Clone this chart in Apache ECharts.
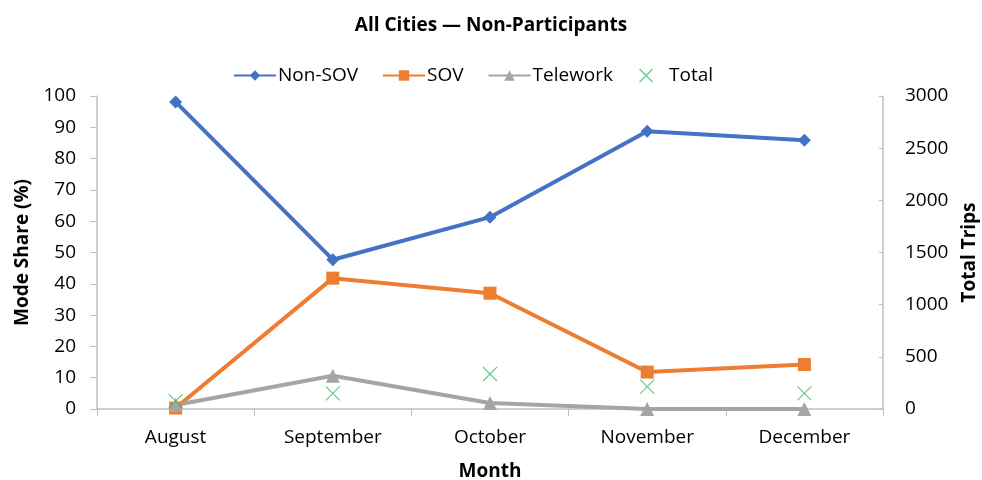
<!DOCTYPE html>
<html><head><meta charset="utf-8">
<script src="https://cdn.jsdelivr.net/npm/echarts@6/dist/echarts.min.js"></script>
<style>html,body{margin:0;padding:0;background:#fff}#c{width:982px;height:480px}</style>
</head><body><div id="c"></div>
<script>
const months = ['August','September','October','November','December'];
const nonSov = [98.1, 47.7, 61.3, 88.7, 85.9];
const sov = [0.3, 41.8, 37.0, 11.8, 14.2];
const telework = [1.3, 10.6, 1.9, 0.0, 0.0];
const total = [75, 150, 335, 215, 150];
const leftTicks = [0, 100, 10];
const rightTicks = [0, 3000, 500];

const font = '"Open Sans", sans-serif';
const axisGray = '#bfbfbf';
const chart = echarts.init(document.getElementById('c'));
chart.setOption({
  animation: false,
  textStyle: { fontFamily: font },
  title: { text: 'All Cities — Non-Participants', left: 'center', top: 11,
    textStyle: { fontSize: 19, fontWeight: 'bold', color: '#000', fontFamily: font } },
  legend: { top: 61, left: 228, itemWidth: 42, itemHeight: 13, itemGap: 24,
    textStyle: { fontSize: 19, color: '#000', fontFamily: font, padding: [0,0,0,-3] },
    data: ['Non-SOV','SOV','Telework',{name:'Total', itemStyle:{color:'none', borderColor:'#3dbd6a', borderWidth:1.2}}] },
  grid: { left: 97, right: 99, top: 96, bottom: 71, outerBoundsMode: 'none', containLabel: false },
  xAxis: { type: 'category', data: months, boundaryGap: true,
    name: 'Month', nameLocation: 'middle', nameGap: 53,
    nameTextStyle: { fontSize: 19, fontWeight: 'bold', color: '#000' },
    axisLine: { lineStyle: { color: axisGray, width: 1.5 } },
    axisTick: { show: true, alignWithLabel: false, length: 7, lineStyle: { color: axisGray } },
    axisLabel: { fontSize: 19, color: '#000', margin: 19 } },
  yAxis: [
    { type: 'value', min: leftTicks[0], max: leftTicks[1], interval: leftTicks[2],
      name: 'Mode Share (%)', nameLocation: 'middle', nameGap: 65,
      nameTextStyle: { fontSize: 19, fontWeight: 'bold', color: '#000' },
      splitLine: { show: false },
      axisLine: { show: true, lineStyle: { color: axisGray, width: 1.5 } },
      axisTick: { show: true, length: 7, lineStyle: { color: axisGray } },
      axisLabel: { fontSize: 19, color: '#000', margin: 21 } },
    { type: 'value', min: rightTicks[0], max: rightTicks[1], interval: rightTicks[2],
      name: 'Total Trips', nameLocation: 'middle', nameGap: 77,
      nameTextStyle: { fontSize: 19, fontWeight: 'bold', color: '#000' },
      splitLine: { show: false },
      axisLine: { show: true, lineStyle: { color: axisGray, width: 1.5 } },
      axisTick: { show: true, inside: true, length: 4, lineStyle: { color: axisGray } },
      axisLabel: { fontSize: 19, color: '#000', margin: 22, formatter: v => String(v) } }
  ],
  series: [
    { name: 'Non-SOV', type: 'line', data: nonSov, yAxisIndex: 0,
      symbol: 'diamond', symbolSize: 13, color: '#4472C4',
      lineStyle: { width: 4, color: '#4472C4' }, itemStyle: { color: '#4472C4' } },
    { name: 'SOV', type: 'line', data: sov, yAxisIndex: 0,
      symbol: 'rect', symbolSize: 13, color: '#ED7D31',
      lineStyle: { width: 4, color: '#ED7D31' }, itemStyle: { color: '#ED7D31' } },
    { name: 'Telework', type: 'line', data: telework, yAxisIndex: 0,
      symbol: 'triangle', symbolSize: 14, color: '#A5A5A5',
      lineStyle: { width: 4, color: '#A5A5A5' }, itemStyle: { color: '#A5A5A5' } },
    { name: 'Total', type: 'scatter', data: total, yAxisIndex: 1,
      symbol: 'path://M0,0L10,10M10,0L0,10', symbolSize: 14, color: '#3dbd6a',
      itemStyle: { color: 'none', borderColor: '#3dbd6a', borderWidth: 1.2 }, z: 5 }
  ]
});
</script></body></html>
